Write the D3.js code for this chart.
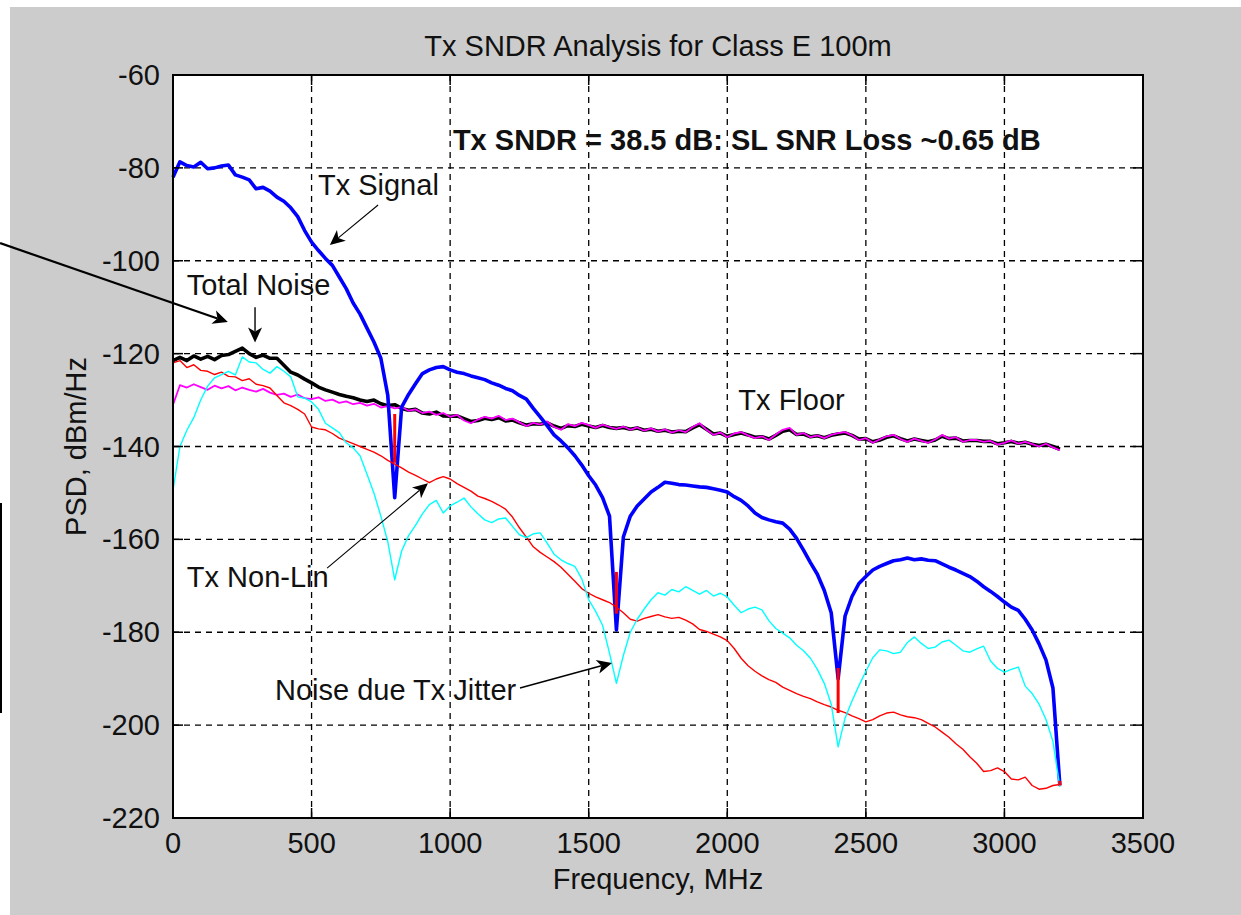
<!DOCTYPE html>
<html>
<head>
<meta charset="utf-8">
<script src="https://cdn.jsdelivr.net/npm/d3@7"></script>
<style>
  html, body { margin: 0; padding: 0; background: #ffffff; }
  svg { display: block; }
  text { font-family: "Liberation Sans", Arial, Helvetica, sans-serif; fill: #111; }
</style>
</head>
<body>
<svg id="chart" width="1241" height="915"></svg>
<script>
// ---- axis ticks ----
const xTicks = [0, 500, 1000, 1500, 2000, 2500, 3000, 3500];
const yTicks = [-220, -200, -180, -160, -140, -120, -100, -80, -60];

// ---- frequency grid (MHz), 25 MHz spacing from 0 to 3200 ----
const freqStep = 25;
const freqMHz = d3.range(0, 3200 + freqStep, freqStep);

// ---- PSD series, dBm/Hz ----
const txSignal = [
  -82.0, -78.7, -79.5, -79.8, -78.8, -80.2, -80.0, -79.6,
  -79.4, -81.5, -82.0, -82.6, -84.5, -84.2, -85.0, -86.3,
  -87.2, -88.6, -90.5, -93.5, -96.0, -97.8, -99.5, -101.0,
  -103.5, -106.0, -109.1, -111.5, -114.5, -117.5, -121.0, -129.0,
  -151.0, -131.5, -128.8, -126.5, -124.3, -123.5, -123.0, -122.8,
  -123.5, -124.0, -124.3, -124.8, -125.2, -125.6, -126.3, -126.8,
  -127.5, -128.0, -129.0, -129.8, -131.8, -133.6, -135.5, -137.5,
  -138.8, -140.3, -142.0, -144.0, -146.3, -148.3, -151.0, -155.0,
  -179.5, -159.5, -155.0, -152.8, -151.3, -149.8, -148.8, -147.7,
  -147.9, -148.2, -148.3, -148.5, -148.7, -148.8, -149.1, -149.4,
  -149.8, -150.8, -151.6, -152.8, -154.3, -155.3, -155.8, -156.2,
  -156.5, -157.8, -159.8, -162.3, -165.0, -167.5, -171.0, -175.8,
  -190.0, -176.5, -172.3, -169.5, -168.0, -166.6, -165.8, -165.2,
  -164.6, -164.4, -164.0, -164.4, -164.2, -164.5, -164.6, -165.3,
  -166.0, -166.6, -167.3, -168.0, -169.0, -170.2, -171.2, -172.3,
  -173.5, -174.6, -175.3, -177.2, -179.5, -182.5, -186.0, -192.0,
  -213.0
];

const totalNoise = [
  -121.5, -120.8, -121.5, -120.5, -121.2, -120.6, -121.3, -120.4,
  -120.2, -119.5, -118.8, -120.0, -120.8, -120.3, -121.0, -121.0,
  -122.5, -124.0, -124.6, -125.5, -126.3, -127.2, -127.8, -128.3,
  -128.8, -129.2, -129.5, -130.0, -130.3, -130.0, -130.8, -131.2,
  -131.0, -131.8, -132.2, -132.0, -132.8, -133.0, -132.6, -133.4,
  -133.5, -133.4, -134.0, -134.6, -134.4, -133.9, -134.2, -133.8,
  -134.5, -134.3, -134.9, -135.4, -135.1, -135.2, -134.9, -135.6,
  -136.1, -135.5, -135.7, -135.2, -135.6, -135.9, -135.5, -135.9,
  -136.1, -135.9, -136.3, -136.0, -136.5, -136.3, -136.7, -136.5,
  -136.9, -136.7, -136.8, -136.0, -135.3, -136.3, -137.3, -137.1,
  -137.8, -137.4, -137.1, -137.5, -138.0, -137.9, -138.4, -137.6,
  -136.7, -136.4, -137.4, -137.3, -137.9, -137.7, -138.1, -137.6,
  -137.3, -137.1, -137.6, -138.4, -138.3, -139.0, -138.6, -138.0,
  -137.7, -138.3, -138.8, -138.4, -138.7, -139.0, -138.6, -137.8,
  -138.3, -138.2, -138.8, -138.7, -138.7, -138.9, -138.9, -139.4,
  -139.2, -138.9, -139.3, -139.1, -139.5, -139.8, -139.5, -140.0,
  -140.6
];

const txFloor = [
  -131.0, -126.8, -127.3, -126.6, -127.2, -127.8, -126.9, -127.5,
  -127.0, -127.9, -127.3, -127.8, -128.2, -127.6, -128.4, -128.9,
  -128.6, -129.3, -128.8, -129.6, -129.8, -129.4, -130.2, -129.9,
  -130.6, -130.3, -130.9, -130.6, -131.2, -130.8, -131.6, -131.3,
  -131.8, -131.5, -132.3, -132.0, -132.8, -132.5, -133.2, -132.8,
  -133.6, -133.2, -134.4, -135.0, -134.2, -133.6, -134.0, -133.4,
  -134.3, -134.0, -134.8, -135.6, -134.9, -135.3, -134.6, -135.8,
  -136.4, -135.2, -135.6, -134.9, -135.4, -136.0, -135.3, -135.8,
  -136.2, -135.7, -136.4, -135.9, -136.6, -136.1, -136.8, -136.3,
  -137.0, -136.5, -136.9, -135.8, -135.0, -136.4, -137.5, -137.0,
  -138.0, -137.2, -136.9, -137.6, -138.2, -137.8, -138.6, -137.4,
  -136.4, -136.0, -137.5, -137.1, -138.0, -137.6, -138.2, -137.5,
  -137.1, -136.9, -137.6, -138.6, -138.2, -139.2, -138.5, -137.8,
  -137.5, -138.4, -139.0, -138.3, -138.8, -139.2, -138.5, -137.5,
  -138.3, -138.0, -139.0, -138.6, -138.6, -139.0, -138.8, -139.6,
  -139.2, -138.7, -139.4, -139.0, -139.5, -140.0, -139.4, -140.2,
  -140.8
];

const txNonLin = [
  -122.0, -121.5, -123.0, -122.4, -123.6, -123.8, -124.5, -124.0,
  -124.9, -125.0, -125.8, -125.4, -126.6, -126.9, -127.4, -129.0,
  -130.6, -131.2, -132.0, -133.0, -135.8, -136.2, -136.4, -137.2,
  -138.2, -138.8, -139.4, -140.0, -140.6, -141.2, -142.0, -143.0,
  -143.8, -144.6, -145.5, -146.2, -147.0, -147.8, -147.0, -146.5,
  -147.0, -148.0, -148.8, -149.6, -150.7, -151.2, -151.8, -152.6,
  -153.5, -155.2, -157.5, -159.5, -161.6, -162.8, -163.8, -164.8,
  -166.0, -167.5, -169.0, -170.6, -171.6, -172.4, -173.0, -173.6,
  -174.6, -175.8, -177.2, -177.6, -177.0, -176.6, -176.2, -176.7,
  -177.0, -176.8, -177.4, -178.2, -179.4, -179.8, -180.4, -181.0,
  -181.8, -183.5, -185.6, -187.2, -188.4, -189.4, -190.2, -190.8,
  -191.8, -192.5, -193.2, -193.8, -194.3, -195.0, -195.6, -196.1,
  -196.8, -197.3, -198.0, -198.6, -199.3, -198.8, -198.0, -197.4,
  -197.2, -197.8, -198.2, -198.4, -198.8, -199.6, -200.4, -201.5,
  -202.6, -204.0, -205.2, -206.8, -208.2, -210.0, -209.8, -209.2,
  -210.0, -211.6, -211.8, -211.2, -213.0, -213.8, -213.6, -213.0,
  -212.8
];

const txJitter = [
  -149.4, -140.0, -136.5, -133.8, -130.0, -127.0, -125.2, -124.5,
  -123.8, -124.6, -120.7, -121.8, -122.0, -123.4, -124.2, -122.8,
  -123.8, -125.0, -129.3, -129.6, -130.4, -132.0, -135.0, -136.0,
  -137.0, -139.2, -140.3, -142.0, -146.0, -150.0, -155.0, -160.5,
  -168.7, -162.5, -159.2, -157.0, -154.5, -152.5, -151.6, -154.3,
  -152.8, -152.0, -151.1, -153.0, -154.5, -155.8, -156.4, -155.6,
  -155.4, -157.2, -159.0, -159.6, -158.8, -158.6, -160.8, -163.2,
  -164.4, -165.2, -165.8, -168.5, -173.0, -175.5, -178.5, -184.5,
  -191.0, -185.0, -180.0, -177.2, -175.0, -173.0, -171.5, -172.0,
  -170.8, -171.3, -170.2, -171.0, -171.8, -171.0, -172.2, -171.6,
  -172.4, -174.2, -175.8, -175.0, -174.6, -175.2, -177.5, -179.2,
  -180.2, -181.2, -182.8, -184.0, -185.6, -188.0, -191.0, -195.5,
  -204.7, -198.5, -194.8, -191.5, -188.4, -185.5, -183.8, -184.0,
  -184.6, -184.3, -182.2, -181.0, -182.4, -183.5, -183.2, -182.1,
  -181.7, -182.8, -184.0, -184.3, -183.6, -183.0, -186.2, -187.8,
  -188.6, -188.0, -187.5, -191.6, -193.2, -195.5, -198.8, -203.5,
  -213.3
];

// short red segments drawn at the signal nulls
const nullFreq = [800, 1600, 2400, 3200];
const nullTop = [-133.0, -167.0, -187.7, -212.0];
const nullBottom = [-143.5, -176.0, -197.4, -213.0];

// ---- annotation text (MHz, dBm/Hz of text anchor) ----
const noteText = ["Tx Signal", "Total Noise", "Tx Floor", "Tx Non-Lin", "Noise due Tx Jitter"];
const noteFreq = [523, 50, 2040, 50, 368];
const noteLevel = [-85.8, -107.4, -132.1, -170.2, -194.6];

// ---- annotation arrows: tail -> head (MHz, dBm/Hz) ----
const arrowFromF = [740, 296, 556, 1252, -624];
const arrowFromL = [-88.0, -110.0, -166.2, -192.0, -96.2];
const arrowToF = [566, 296, 920, 1584, 198];
const arrowToL = [-96.6, -117.6, -147.9, -186.6, -113.2];
const arrowWidth = [1.1, 1.4, 1.1, 1.4, 2.2];

const summaryText = "Tx SNDR = 38.5 dB: SL SNR Loss ~0.65 dB";
const summaryFreq = 1010;
const summaryLevel = -76.1;

// ---- layout ----
const W = 1241, H = 915;
const plot = { left: 173, top: 75, right: 1143, bottom: 818 };
const FONT = 29;

const svg = d3.select("#chart");

// figure background
svg.append("rect").attr("x", 0).attr("y", 0).attr("width", W).attr("height", H).attr("fill", "#ffffff");
svg.append("rect").attr("x", 10).attr("y", 7).attr("width", W - 10).attr("height", H - 7).attr("fill", "#cccccc");

const x = d3.scaleLinear().domain([0, 3500]).range([plot.left, plot.right]);
const y = d3.scaleLinear().domain([-220, -60]).range([plot.bottom, plot.top]);

// axes area
svg.append("rect")
  .attr("x", plot.left).attr("y", plot.top)
  .attr("width", plot.right - plot.left).attr("height", plot.bottom - plot.top)
  .attr("fill", "#ffffff");

// grid
const grid = svg.append("g").attr("stroke", "#000").attr("stroke-width", 1.3).attr("stroke-dasharray", "6,5");
grid.selectAll("line.vx").data(xTicks.slice(1, -1)).join("line")
  .attr("x1", d => x(d)).attr("x2", d => x(d))
  .attr("y1", plot.top).attr("y2", plot.bottom);
grid.selectAll("line.hy").data(yTicks.slice(1, -1)).join("line")
  .attr("y1", d => y(d)).attr("y2", d => y(d))
  .attr("x1", plot.left).attr("x2", plot.right);

// data lines
const line = d3.line()
  .x((d, i) => x(freqMHz[i]))
  .y(d => y(d));

const plotG = svg.append("g");
const series = [
  { v: totalNoise, c: "#000000", w: 3.6 },
  { v: txFloor, c: "#ff00ff", w: 1.8 },
  { v: txSignal, c: "#0000ff", w: 3.6 },
  { v: txNonLin, c: "#ff0000", w: 1.4 },
  { v: txJitter, c: "#00ffff", w: 1.4 }
];
series.forEach(s => {
  plotG.append("path")
    .attr("d", line(s.v))
    .attr("fill", "none")
    .attr("stroke", s.c)
    .attr("stroke-width", s.w)
    .attr("stroke-linejoin", "round");
});

plotG.selectAll("line.null").data(nullFreq).join("line")
  .attr("x1", d => x(d)).attr("x2", d => x(d))
  .attr("y1", (d, i) => y(nullTop[i])).attr("y2", (d, i) => y(nullBottom[i]))
  .attr("stroke", "#ff0000").attr("stroke-width", 3);

// axes box and inward ticks
const axisG = svg.append("g").attr("stroke", "#000");
axisG.append("rect")
  .attr("x", plot.left).attr("y", plot.top)
  .attr("width", plot.right - plot.left).attr("height", plot.bottom - plot.top)
  .attr("fill", "none").attr("stroke-width", 2);
const TL = 10;
xTicks.forEach(t => {
  axisG.append("line").attr("x1", x(t)).attr("x2", x(t)).attr("y1", plot.bottom).attr("y2", plot.bottom - TL).attr("stroke-width", 1.5);
  axisG.append("line").attr("x1", x(t)).attr("x2", x(t)).attr("y1", plot.top).attr("y2", plot.top + TL).attr("stroke-width", 1.5);
});
yTicks.forEach(t => {
  axisG.append("line").attr("y1", y(t)).attr("y2", y(t)).attr("x1", plot.left).attr("x2", plot.left + TL).attr("stroke-width", 1.5);
  axisG.append("line").attr("y1", y(t)).attr("y2", y(t)).attr("x1", plot.right).attr("x2", plot.right - TL).attr("stroke-width", 1.5);
});

// tick labels
svg.append("g").selectAll("text").data(xTicks).join("text")
  .attr("x", d => x(d)).attr("y", plot.bottom + 35)
  .attr("text-anchor", "middle").attr("font-size", FONT)
  .text(d => d);
svg.append("g").selectAll("text").data(yTicks).join("text")
  .attr("x", plot.left - 13).attr("y", d => y(d) + 10)
  .attr("text-anchor", "end").attr("font-size", FONT)
  .text(d => d);

// titles
svg.append("text").attr("x", (plot.left + plot.right) / 2).attr("y", 56)
  .attr("text-anchor", "middle").attr("font-size", FONT)
  .text("Tx SNDR Analysis for Class E 100m");
svg.append("text").attr("x", (plot.left + plot.right) / 2).attr("y", 889)
  .attr("text-anchor", "middle").attr("font-size", FONT)
  .text("Frequency, MHz");
svg.append("text")
  .attr("transform", `translate(86, ${(plot.top + plot.bottom) / 2}) rotate(-90)`)
  .attr("text-anchor", "middle").attr("font-size", FONT)
  .text("PSD, dBm/Hz");

// annotations
svg.append("text").attr("x", x(summaryFreq)).attr("y", y(summaryLevel))
  .attr("font-size", FONT).attr("font-weight", "bold")
  .text(summaryText);

svg.append("g").selectAll("text").data(noteText).join("text")
  .attr("x", (d, i) => x(noteFreq[i])).attr("y", (d, i) => y(noteLevel[i]))
  .attr("font-size", FONT)
  .text(d => d);

const arrowG = svg.append("g");
arrowFromF.forEach((f, i) => {
  const x1 = x(f), y1 = y(arrowFromL[i]);
  const x2 = x(arrowToF[i]), y2 = y(arrowToL[i]);
  const ang = Math.atan2(y2 - y1, x2 - x1);
  const len = 15, half = 7, back = 11;
  const bx = x2 - back * Math.cos(ang), by = y2 - back * Math.sin(ang);
  arrowG.append("line")
    .attr("x1", x1).attr("y1", y1).attr("x2", bx).attr("y2", by)
    .attr("stroke", "#000").attr("stroke-width", arrowWidth[i]);
  const p1x = x2 - len * Math.cos(ang) + half * Math.sin(ang);
  const p1y = y2 - len * Math.sin(ang) - half * Math.cos(ang);
  const p2x = x2 - len * Math.cos(ang) - half * Math.sin(ang);
  const p2y = y2 - len * Math.sin(ang) + half * Math.cos(ang);
  arrowG.append("path")
    .attr("d", `M${x2},${y2}L${p1x},${p1y}L${bx},${by}L${p2x},${p2y}Z`)
    .attr("fill", "#000");
});

// bracket edge on the far left of the figure
svg.append("line").attr("x1", 1).attr("x2", 1).attr("y1", 503).attr("y2", 713)
  .attr("stroke", "#000").attr("stroke-width", 2);
</script>
</body>
</html>
